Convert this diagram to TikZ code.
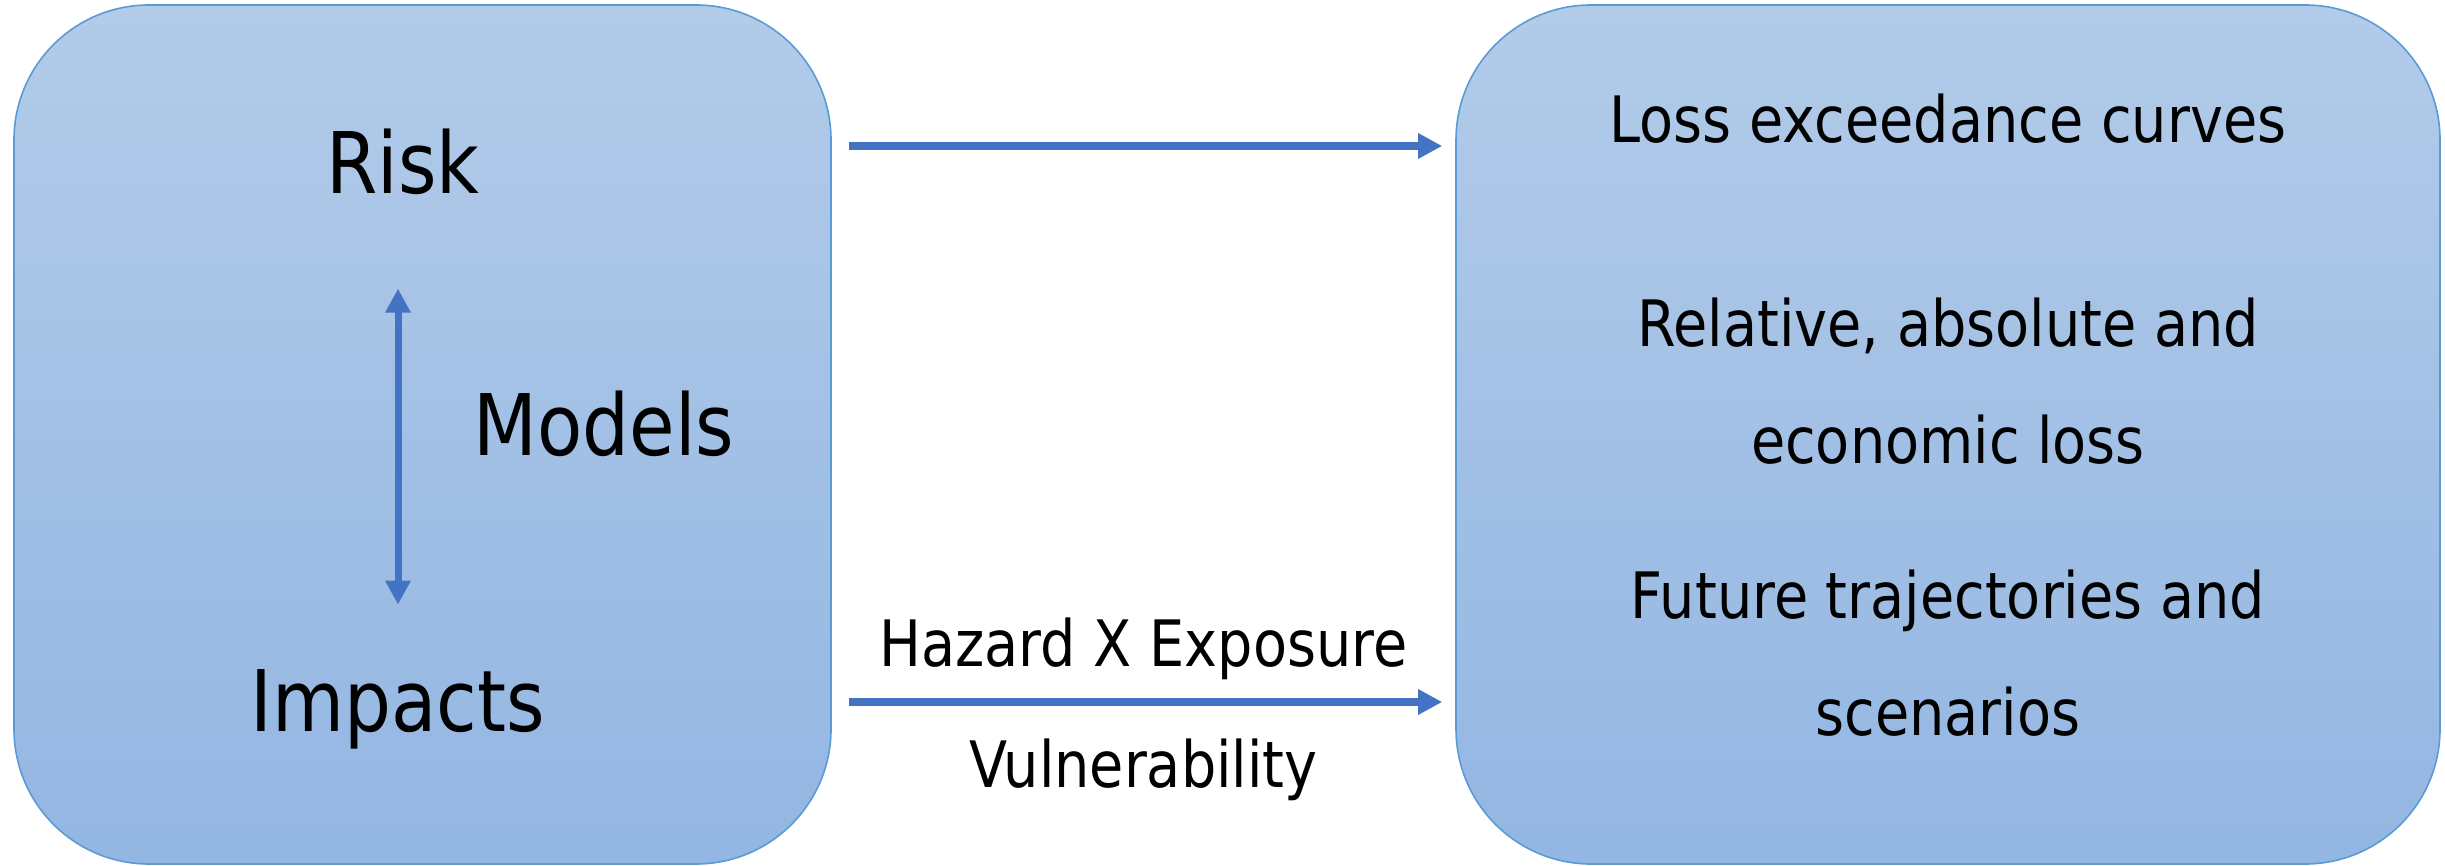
\documentclass[tikz,border=0pt]{standalone}
\usepackage{fontspec}
\setmainfont{DejaVu Sans}[FakeStretch=0.87]
\usetikzlibrary{arrows.meta,positioning,shadings}
\definecolor{boxtop}{HTML}{B2CBE9}
\definecolor{boxbot}{HTML}{93B6E2}
\definecolor{boxline}{HTML}{5B9BD5}
\definecolor{flowblue}{HTML}{4472C4}

\begin{document}
\begin{tikzpicture}[
    x=0.5pt, y=-0.5pt,
    panel/.style={
      draw=boxline,
      line width=0.8pt,
      rounded corners=67.5pt,
      top color=boxtop,
      bottom color=boxbot,
      minimum height=429.5pt,
      inner sep=0pt,
    },
    big/.style={font=\fontsize{42.5}{51}\selectfont, inner sep=0pt, anchor=base},
    small/.style={font=\fontsize{32}{58.5}\selectfont, inner sep=0pt, anchor=base,
      align=center, text=black},
    flow/.style={-{Triangle[length=12pt,width=12pt]}, line width=3.75pt, color=flowblue},
  ]
    \useasboundingbox (0,0) rectangle (2445,866);

    % the two panels
    \node[panel, minimum width=408.5pt] (lbox) at (422.5,434.5) {};
    \node[panel, minimum width=492pt] (rbox) at (1948,434.5) {};

    \node[big] (risk) at (403,194) {Risk};
    \node[big] (models) at (604,455) {Models};
    \node[big] (impacts) at (398,731) {Impacts};

    % base of a two-line node is its last line
    \node[small] (loss) at (1948,143) {Loss exceedance curves};
    \node[small] (rel) at (1948,463) {Relative, absolute and\\economic loss};
    \node[small] (fut) at (1948,735) {Future trajectories and\\scenarios};

    \coordinate (toprow) at (0,146);
    \coordinate (botrow) at (0,702);

    % arrows
    \draw[{Triangle[length=12pt,width=12pt]}-{Triangle[length=12pt,width=12pt]},
      line width=3.5pt, color=flowblue, shorten <=46.5pt, shorten >=32pt]
      (impacts.north |- risk.south) -- (impacts.north);
    \draw[flow, shorten <=8.5pt, shorten >=6.5pt]
      (lbox.east |- toprow) -- (rbox.west |- toprow);
    \draw[flow, shorten <=8.5pt, shorten >=6.5pt]
      (lbox.east |- botrow) --
      node[small, yshift=18pt] (hazard) {Hazard X Exposure}
      node[small, yshift=-42.5pt] (vuln) {Vulnerability}
      (rbox.west |- botrow);
  \end{tikzpicture}
\end{document}
